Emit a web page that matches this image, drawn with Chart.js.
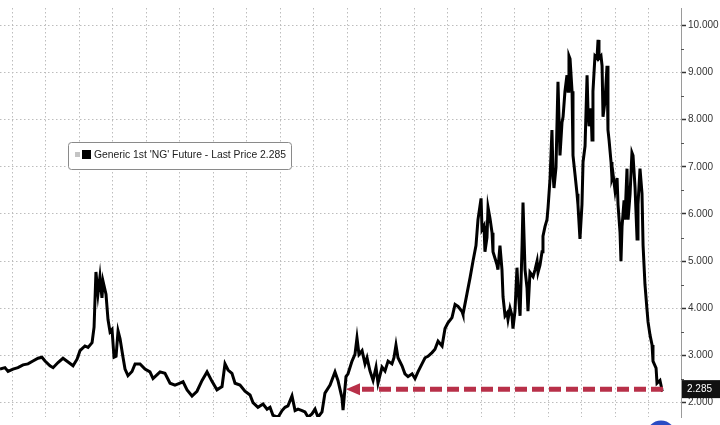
<!DOCTYPE html>
<html><head><meta charset="utf-8">
<script src="https://cdn.jsdelivr.net/npm/chart.js@4/dist/chart.umd.min.js"></script>
<style>html,body{margin:0;padding:0;background:#fff;overflow:hidden}#wrap{width:720px;height:425px;position:relative}</style>
</head><body><div id="wrap"><canvas id="c"></canvas></div>
<script>
// Decimal years (x) and prices (y) for Generic 1st 'NG' Future
const years = [
2018.160,2018.197,2018.220,2018.257,2018.294,2018.332,2018.369,2018.406,2018.444,2018.473,
2018.496,2018.533,2018.556,2018.593,2018.630,2018.668,2018.705,2018.735,2018.757,2018.794,
2018.817,2018.847,2018.862,2018.876,2018.891,2018.906,2018.921,2018.929,2018.951,2018.966,
2018.981,2018.996,2019.011,2019.026,2019.041,2019.056,2019.078,2019.093,2019.115,2019.145,
2019.168,2019.205,2019.242,2019.279,2019.302,2019.339,2019.354,2019.391,2019.429,2019.466,
2019.503,2019.526,2019.556,2019.593,2019.630,2019.668,2019.705,2019.742,2019.779,2019.817,
2019.839,2019.862,2019.891,2019.914,2019.951,2019.988,2020.026,2020.048,2020.085,2020.123,
2020.153,2020.175,2020.197,2020.235,2020.265,2020.287,2020.309,2020.339,2020.362,2020.384,
2020.414,2020.436,2020.459,2020.488,2020.511,2020.533,2020.563,2020.585,2020.623,2020.660,
2020.682,2020.712,2020.720,2020.742,2020.757,2020.787,2020.809,2020.824,2020.839,2020.862,
2020.884,2020.899,2020.921,2020.944,2020.966,2020.981,2021.011,2021.033,2021.056,2021.085,
2021.100,2021.115,2021.130,2021.160,2021.182,2021.205,2021.235,2021.257,2021.279,2021.309,
2021.332,2021.354,2021.384,2021.406,2021.429,2021.459,2021.481,2021.503,2021.533,2021.556,
2021.578,2021.608,2021.615,2021.645,2021.668,2021.690,2021.712,2021.727,2021.750,2021.757,
2021.772,2021.779,2021.794,2021.802,2021.817,2021.832,2021.839,2021.854,2021.869,2021.876,
2021.891,2021.906,2021.914,2021.929,2021.944,2021.951,2021.966,2021.981,2021.988,2022.003,
2022.018,2022.026,2022.041,2022.056,2022.063,2022.078,2022.093,2022.100,2022.115,2022.130,
2022.138,2022.153,2022.168,2022.175,2022.190,2022.205,2022.212,2022.227,2022.242,2022.250,
2022.265,2022.279,2022.287,2022.294,2022.309,2022.324,2022.339,2022.354,2022.362,2022.376,
2022.391,2022.399,2022.406,2022.414,2022.429,2022.436,2022.451,2022.466,2022.473,2022.488,
2022.503,2022.511,2022.526,2022.541,2022.548,2022.556,2022.570,2022.578,2022.585,2022.600,
2022.615,2022.623,2022.630,2022.645,2022.653,2022.660,2022.675,2022.690,2022.697,2022.705,
2022.720,2022.727,2022.735,2022.750,2022.765,2022.772,2022.787,2022.794,2022.802,2022.817,
2022.824,2022.839,2022.847,2022.862,2022.876,2022.884,2022.899,2022.914,2022.921,2022.936,
2022.951,2022.959,2022.973,2022.988,2022.996,2023.011,2023.026,2023.033,2023.056,2023.063,
2023.085,2023.100,2023.108
];
const prices = [
2.71,2.74,2.66,2.71,2.74,2.80,2.82,2.88,2.94,2.96,
2.88,2.78,2.74,2.85,2.94,2.86,2.78,2.92,3.10,3.20,
3.17,3.27,3.60,4.77,4.30,4.67,4.22,4.57,4.30,3.76,
3.50,3.55,2.96,2.98,3.52,3.35,2.96,2.71,2.57,2.66,
2.82,2.82,2.71,2.65,2.51,2.61,2.65,2.62,2.41,2.37,
2.41,2.44,2.27,2.14,2.24,2.47,2.65,2.45,2.27,2.34,
2.82,2.69,2.62,2.41,2.37,2.24,2.16,2.00,1.90,1.97,
1.86,1.90,1.73,1.69,1.83,1.90,1.93,2.14,1.83,1.86,
1.83,1.80,1.69,1.76,1.86,1.69,1.80,2.20,2.37,2.65,
2.47,2.10,1.84,2.55,2.61,2.88,3.02,3.37,3.02,3.10,
2.82,2.95,2.67,2.47,2.75,2.41,2.75,2.67,2.88,2.82,
2.95,3.22,2.95,2.78,2.61,2.55,2.61,2.51,2.65,2.82,
2.95,2.98,3.06,3.13,3.30,3.20,3.57,3.69,3.80,4.08,
4.04,3.93,3.87,4.31,4.65,5.00,5.33,5.88,6.33,5.67,
5.75,5.20,5.50,6.14,5.90,5.60,5.20,5.06,4.92,4.82,
5.33,4.82,4.24,3.84,3.90,3.76,4.00,3.84,3.57,3.94,
4.86,4.43,3.84,5.33,6.24,4.82,4.43,3.94,4.76,4.70,
4.67,4.82,5.00,4.76,4.92,5.20,5.53,5.73,5.88,6.14,
6.76,7.78,6.85,6.55,6.98,8.80,7.24,7.94,8.06,8.60,
8.94,8.60,9.35,9.29,8.60,7.24,6.84,6.43,6.20,5.47,
6.20,7.10,7.44,8.94,8.18,7.86,8.24,7.57,8.60,9.35,
9.30,9.69,9.30,9.35,9.14,8.06,8.40,9.14,7.78,7.57,
7.10,6.76,6.84,6.49,6.76,6.20,5.61,5.00,5.73,6.29,
5.88,6.96,5.88,6.43,7.30,7.24,6.57,5.47,6.20,6.96,
6.43,5.33,4.51,3.98,3.71,3.43,3.22,2.88,2.73,2.41,
2.47,2.27,2.285
];
const yTickValues = [2,3,4,5,6,7,8,9,10];
const quarterTicks = [2018.25,2018.5,2018.75,2019,2019.25,2019.5,2019.75,2020,2020.25,2020.5,2020.75,2021,2021.25,2021.5,2021.75,2022,2022.25,2022.5,2022.75,2023];
const lastPrice = 2.285;
const legendLabel = "Generic 1st 'NG' Future - Last Price 2.285";
const arrowStartYear = 2020.742;

const FONT = "'Liberation Sans', Arial, sans-serif";

const overlay = {
  id: 'overlay',
  afterDatasetsDraw(chart) {
    const ctx = chart.ctx, xs = chart.scales.x, ys = chart.scales.y;
    const area = chart.chartArea;
    ctx.save();
    // minor ticks on y axis
    ctx.strokeStyle = '#555'; ctx.lineWidth = 1;
    for (let i = 0; i < yTickValues.length - 1; i++) {
      const v = (yTickValues[i] + yTickValues[i+1]) / 2;
      const py = Math.round(ys.getPixelForValue(v)) + 0.5;
      ctx.beginPath(); ctx.moveTo(area.right, py); ctx.lineTo(area.right + 3, py); ctx.stroke();
    }
    // red dashed arrow
    const ay = ys.getPixelForValue(lastPrice);
    const ax0 = xs.getPixelForValue(arrowStartYear);
    const ax1 = xs.getPixelForValue(years[years.length - 1]) + 2;
    const red = '#b83049';
    ctx.fillStyle = red;
    ctx.beginPath();
    ctx.moveTo(ax0, ay); ctx.lineTo(ax0 + 14, ay - 6); ctx.lineTo(ax0 + 14, ay + 6); ctx.closePath(); ctx.fill();
    ctx.strokeStyle = red; ctx.lineWidth = 5; ctx.setLineDash([12, 5]);
    ctx.beginPath(); ctx.moveTo(ax0 + 16, ay); ctx.lineTo(ax1, ay); ctx.stroke();
    ctx.setLineDash([]);
    // legend box
    const lx = 68, ly = 142, lw = 223, lh = 27;
    ctx.fillStyle = '#fff'; ctx.strokeStyle = '#8a8a8a'; ctx.lineWidth = 1;
    ctx.beginPath(); ctx.roundRect(lx + 0.5, ly + 0.5, lw, lh, 3); ctx.fill(); ctx.stroke();
    ctx.fillStyle = '#c4c4c4'; ctx.fillRect(lx + 7, ly + 10, 5, 5);
    ctx.fillStyle = '#000'; ctx.fillRect(lx + 14, ly + 8, 9, 9);
    ctx.font = '10px ' + FONT;
    const w10 = ctx.measureText(legendLabel).width;
    const fs = Math.min(11, 10 * 192 / w10);
    ctx.font = fs.toFixed(2) + 'px ' + FONT;
    ctx.fillStyle = '#222'; ctx.textBaseline = 'middle'; ctx.textAlign = 'left';
    ctx.fillText(legendLabel, lx + 26, ly + 13.5);
    // price tag
    ctx.fillStyle = '#111';
    ctx.fillRect(area.right + 1, ay - 9, chart.width - area.right - 1, 18);
    ctx.fillStyle = '#fff'; ctx.font = '10px ' + FONT;
    ctx.fillText(lastPrice.toFixed(3), area.right + 6, ay + 0.5);
    // blue logo edge
    ctx.fillStyle = '#2a4cc4';
    ctx.beginPath(); ctx.arc(661, 435, 14.6, 0, Math.PI * 2); ctx.fill();
    ctx.restore();
  }
};

new Chart(document.getElementById('c'), {
  type: 'line',
  data: {
    datasets: [{
      data: years.map((x, i) => ({x, y: prices[i]})),
      borderColor: '#000', borderWidth: 3, pointRadius: 0, tension: 0,
      borderJoinStyle: 'miter', fill: false
    }]
  },
  options: {
    responsive: true, maintainAspectRatio: false, animation: false,
    devicePixelRatio: 1,
    layout: { padding: 0 },
    plugins: { legend: { display: false }, tooltip: { enabled: false } },
    scales: {
      x: {
        type: 'linear', min: 2018.16, max: 2023.242,
        afterBuildTicks: s => { s.ticks = quarterTicks.map(v => ({value: v})); },
        ticks: { display: false },
        grid: { color: '#bdbdbd', lineWidth: 1, drawTicks: false },
        border: { display: false, dash: [1.5, 2.5] }
      },
      y: {
        position: 'right', min: 1.694, max: 10.367,
        afterBuildTicks: s => { s.ticks = yTickValues.map(v => ({value: v})); },
        afterFit: s => { s.width = 39; },
        ticks: {
          callback: v => Number(v).toFixed(3),
          color: '#333', padding: 2,
          font: { family: FONT, size: 10 }
        },
        grid: { color: '#bdbdbd', lineWidth: 1, drawTicks: true, tickLength: 5, tickColor: '#333', tickWidth: 1.5, tickBorderDash: [] },
        border: { display: true, color: '#9a9a9a', width: 1, dash: [1.5, 2.5] }
      }
    }
  },
  plugins: [overlay]
});
</script>
</body></html>
